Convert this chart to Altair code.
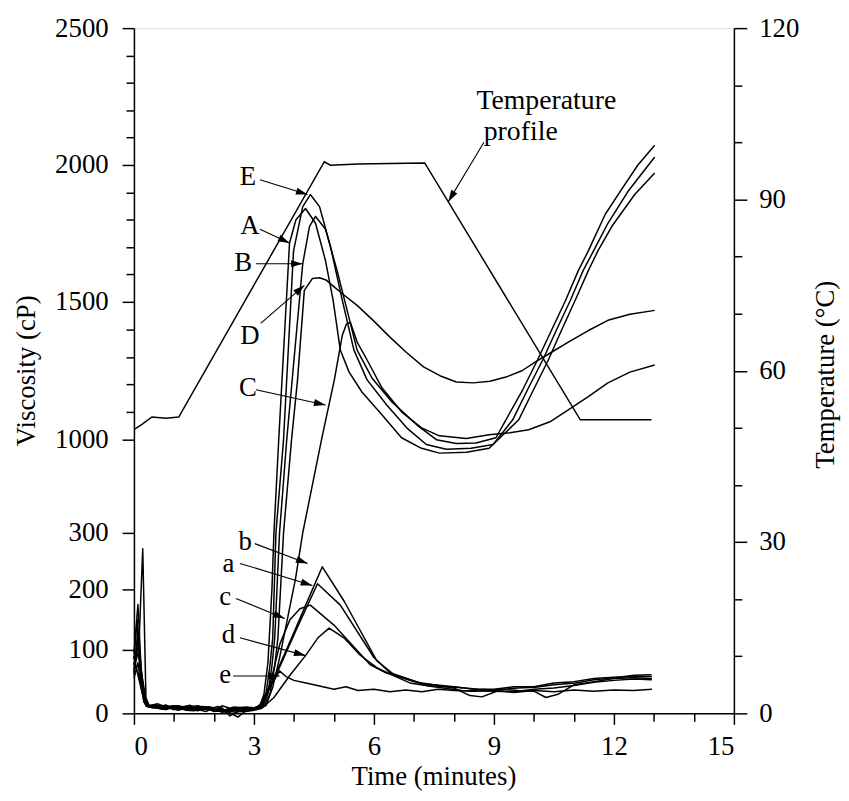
import math
import altair as alt
import pandas as pd

FONT = "Liberation Serif"

# ---------------- data ----------------
# upper-viscosity curves (cP) vs time (min)
A_t = [0.0, 0.08, 0.15, 0.25, 0.35, 0.55, 0.7, 0.9, 1.1, 1.3, 1.5, 1.7, 1.9, 2.1, 2.3, 2.5, 2.7, 2.85, 3.0, 3.15, 3.25, 3.35,
       3.45, 3.5, 3.62, 3.89, 4.05, 4.29,
       4.54, 4.79, 4.98, 5.16, 5.38, 5.70, 6.2, 6.69, 7.19, 7.64, 8.31, 8.88, 9.62, 9.99, 10.36, 10.69, 11.03, 11.36,
       11.6, 11.95, 12.52, 13.02]
A_v = [85, 150, 70, 18, 12, 14, 9, 11, 12, 8, 7, 11, 10, 5, 6, 10, 9, 4, 8, 12, 30, 80,
       200, 300, 1000, 1715, 1800, 1841,
       1787, 1650, 1505, 1325, 1245, 1173, 1090, 1007, 935, 899, 906, 935, 1072, 1181, 1289, 1397, 1505, 1614,
       1686, 1776, 1892, 1971]

E_t = [0.0, 0.1, 0.2, 0.3, 0.45, 0.6, 0.8, 1.0, 1.2, 1.4, 1.6, 1.8, 2.0, 2.2, 2.4, 2.6, 2.8, 3.0, 3.2, 3.3, 3.4, 3.47,
       3.55, 3.74, 3.99, 4.22, 4.41,
       4.64, 4.91, 5.21, 5.5, 5.83, 6.32, 6.82, 7.31, 7.81, 8.43, 8.98, 9.47, 9.84, 10.22, 10.56, 10.91, 11.23, 11.53,
       11.85, 12.35, 13.02]
E_v = [75, 120, 40, 14, 9, 10, 13, 6, 9, 11, 7, 8, 4, 12, 8, 5, 9, 9, 12, 30, 75, 120,
       300, 1000, 1686, 1848, 1892,
       1848, 1704, 1505, 1325, 1217, 1126, 1043, 964, 928, 935, 964, 1072, 1181, 1289, 1397, 1505, 1614, 1697,
       1787, 1903, 2029]

B_t = [0.0, 0.1, 0.2, 0.3, 0.45, 0.6, 0.8, 1.0, 1.2, 1.4, 1.6, 1.8, 2.0, 2.2, 2.4, 2.6, 2.8, 3.0, 3.22, 3.35, 3.45, 3.52,
       3.64, 3.82, 4.22, 4.39, 4.54,
       4.79, 5.08, 5.33, 5.58, 5.95, 6.45, 7.07, 7.56, 8.06, 8.55, 9.05, 9.30, 9.72, 10.09, 10.44, 10.79, 11.11, 11.36,
       11.78, 12.20, 12.60, 13.02]
B_v = [65, 110, 45, 12, 10, 8, 6, 11, 9, 5, 10, 9, 3, 4, 7, 8, 5, 6, 12, 30, 75, 120,
       300, 1000, 1639, 1776, 1812,
       1765, 1614, 1469, 1325, 1224, 1137, 1054, 1000, 971, 975, 1007, 1072, 1181, 1289, 1397, 1505, 1614, 1686,
       1819, 1913, 2000, 2072]

D_t = [0.0, 0.12, 0.2, 0.3, 0.4, 0.6, 0.8, 1.0, 1.2, 1.4, 1.6, 1.8, 2.0, 2.2, 2.4, 2.6, 2.8, 3.1, 3.25, 3.4, 3.52, 3.6,
       3.74, 3.94, 4.09, 4.26, 4.46, 4.64,
       4.8, 4.96, 5.25, 5.58, 6.0, 6.40, 6.8, 7.24, 7.65, 8.06, 8.48, 8.9, 9.30, 9.7, 10.04, 10.45, 10.86, 11.35, 11.85,
       12.4, 13.02]
D_v = [100, 90, 60, 20, 10, 12, 7, 9, 10, 6, 4, 10, 9, 3, 6, 9, 10, 8, 12, 30, 75, 120,
       300, 1000, 1217, 1542, 1585, 1588,
       1580, 1560, 1525, 1487, 1430, 1372, 1318, 1264, 1232, 1209, 1206, 1212, 1227, 1250, 1282, 1318, 1354, 1395, 1433,
       1455, 1469]

C_t = [0.0, 0.1, 0.22, 0.32, 0.5, 0.7, 0.9, 1.1, 1.3, 1.5, 1.7, 1.9, 2.1, 2.3, 2.5, 2.7, 2.85, 3.0, 3.3, 3.47, 3.64,
       3.84, 4.04, 4.22, 4.69, 5.01, 5.21, 5.31, 5.41,
       5.58, 5.83, 6.2, 6.69, 7.19, 7.64, 8.31, 8.88, 9.4, 9.87, 10.4, 10.86, 11.35, 11.85, 12.4, 13.02]
C_v = [90, 60, 30, 11, 13, 8, 10, 5, 8, 10, 6, 7, 11, 2, 4, 6, 9, 7, 12, 41, 87,
       152, 219, 300, 1000, 1217, 1379, 1419, 1426,
       1354, 1289, 1188, 1101, 1043, 1014, 1004, 1018, 1025, 1036, 1065, 1108, 1155, 1206, 1245, 1271]

# lower-viscosity curves (cP)
a_t = [0.0, 0.12, 0.22, 0.3, 0.38, 0.6, 0.8, 1.0, 1.2, 1.4, 1.6, 1.8, 2.0, 2.2, 2.4, 2.6, 2.8, 3.05, 3.2, 3.6, 4.09, 4.59,
       5.16, 6.0, 6.4, 7.2, 8.0, 8.5,
       9.0, 9.5, 10.0, 10.5, 11.0, 11.5, 12.0, 12.5, 12.95]
a_v = [70, 100, 272, 25, 12, 15, 10, 6, 7, 11, 12, 8, 4, 9, -4, 3, 5, 8, 14, 67, 138, 210,
       174, 88, 64, 47, 42, 38,
       38, 42, 42, 48, 50, 55, 57, 58, 58]

b_t = [0.0, 0.1, 0.18, 0.28, 0.4, 0.6, 0.8, 1.0, 1.2, 1.4, 1.6, 1.8, 2.0, 2.2, 2.4, 2.6, 2.8, 3.05, 3.22, 3.6, 3.97, 4.34,
       4.71, 5.26, 6.07, 6.5, 7.31,
       8.06, 8.6, 9.05, 9.6, 10.04, 10.5, 11.03, 11.5, 12.03, 12.5, 12.94]
b_v = [95, 175, 70, 15, 10, 8, 6, 12, 11, 7, 5, 10, 8, 2, 3, 9, 7, 9, 17, 70, 124, 181,
       240, 180, 83, 61, 44,
       41, 38, 37, 40, 41, 45, 48, 53, 56, 60, 61]

c_t = [0.0, 0.1, 0.2, 0.3, 0.45, 0.6, 0.8, 1.0, 1.2, 1.4, 1.6, 1.8, 2.0, 2.2, 2.4, 2.6, 2.75, 2.9, 3.15, 3.4, 3.65, 3.9,
       4.15, 4.41, 5.0, 5.9, 6.3, 7.0, 7.6,
       8.0, 8.4, 8.7, 9.2, 9.6, 10.0, 10.3, 10.6, 11.0, 11.5, 12.0, 12.5, 12.95]
c_v = [60, 135, 55, 14, 9, 11, 13, 8, 10, 13, 6, 3, 9, 7, 1, -6, 2, 6, 12, 45, 110, 150,
       168, 174, 141, 77, 64, 50, 44,
       40, 28, 26, 38, 36, 35, 25, 30, 45, 50, 55, 56, 55]

d_t = [0.0, 0.1, 0.2, 0.3, 0.45, 0.6, 0.8, 1.0, 1.2, 1.4, 1.6, 1.8, 2.0, 2.2, 2.4, 2.6, 2.8, 3.0, 3.2, 3.5, 3.9, 4.29,
       4.6, 4.88, 5.25, 5.65, 6.07, 6.5, 6.9,
       7.5, 8.2, 9.0, 9.5, 10.0, 10.5, 11.0, 11.5, 12.0, 12.5, 12.95]
d_v = [55, 80, 35, 12, 11, 8, 10, 12, 7, 6, 11, 9, 6, 2, 5, 7, 3, 5, 8, 25, 60, 91,
       120, 136, 120, 92, 72, 59, 48,
       42, 36, 35, 34, 38, 40, 44, 49, 52, 54, 53]

e_t = [0.0, 0.12, 0.25, 0.35, 0.5, 0.7, 0.9, 1.1, 1.3, 1.5, 1.7, 1.9, 2.1, 2.3, 2.5, 2.7, 2.85, 3.0, 3.1, 3.3, 3.64, 3.8,
       4.0, 4.3, 4.5, 5.0, 5.3, 5.6, 6.0,
       6.4, 6.8, 7.2, 7.6, 8.0, 8.5, 9.0, 9.5, 10.0, 10.5, 11.0, 11.5, 12.0, 12.5, 12.95]
e_v = [80, 60, 18, 10, 12, 7, 9, 9, 5, 4, 10, 8, 6, 5, 2, 3, 7, 6, 8, 30, 67, 58,
       52, 48, 45, 38, 42, 36, 38,
       34, 37, 34, 38, 36, 35, 37, 33, 36, 34, 37, 35, 37, 36, 38]

# temperature profile (deg C)
temp_t = [0.0, 0.2, 0.45, 0.8, 1.12, 4.76, 4.91, 5.6, 6.4, 7.27, 11.16, 12.94]
temp_v = [49.7, 50.6, 51.9, 51.7, 51.9, 96.6, 96.0, 96.2, 96.3, 96.4, 51.4, 51.4]

# annotations: label text, label position, arrow tail -> head (time, viscosity)
ann_text = ["E", "A", "B", "D", "C", "b", "a", "c", "d", "e"]
ann_lt = [2.85, 2.90, 2.73, 2.90, 2.85, 2.78, 2.36, 2.28, 2.36, 2.28]
ann_lv = [1957, 1776, 1643, 1375, 1188, 284, 244, 188, 125, 61]
arr_t0 = [3.15, 3.15, 3.05, 3.17, 3.05, 3.02, 2.65, 2.55, 2.65, 2.48, 8.75]
arr_v0 = [1946, 1765, 1639, 1422, 1181, 281, 246, 185, 120, 59, 2083]
arr_t1 = [4.34, 3.89, 4.22, 4.26, 4.79, 4.34, 4.46, 3.77, 4.29, 3.64, 7.86]
arr_v1 = [1892, 1715, 1639, 1560, 1126, 246, 207, 152, 91, 59, 1866]
tp_text = ["Temperature", "profile"]
tp_t = [10.31, 9.67]
tp_v = [2235, 2119]

# axis ticks
visc_ticks = [0, 100, 200, 300] + list(range(1000, 2501, 100))
temp_ticks = list(range(0, 121, 10))
time_ticks = list(range(0, 16))

# ---------------- layout ----------------
W, H = 605, 691
VISC_DOMAIN = [0, 100, 200, 300, 1000, 1500, 2000, 2500]
VISC_RANGE = [691, 627, 566, 509, 415, 276, 138, 0]


def ypix(v):
    d, r = VISC_DOMAIN, VISC_RANGE
    for i in range(len(d) - 1):
        if v <= d[i + 1] or i == len(d) - 2:
            return r[i] + (v - d[i]) * (r[i + 1] - r[i]) / (d[i + 1] - d[i])


def xpix(t):
    return t / 15 * W


curves = {"A": (A_t, A_v), "E": (E_t, E_v), "B": (B_t, B_v), "D": (D_t, D_v), "C": (C_t, C_v),
          "a": (a_t, a_v), "b": (b_t, b_v), "c": (c_t, c_v), "d": (d_t, d_v), "e": (e_t, e_v)}
rows = []
for name, (ts, vs) in curves.items():
    for i, (t, v) in enumerate(zip(ts, vs)):
        rows.append({"curve": name, "t": t, "v": v, "o": i})
df = pd.DataFrame(rows)

tdf = pd.DataFrame({"t": temp_t, "T": temp_v, "o": range(len(temp_t))})

arr = pd.DataFrame({"t0": arr_t0, "v0": arr_v0, "t1": arr_t1, "v1": arr_v1})
angles = []
for t0, v0, t1, v1 in zip(arr_t0, arr_v0, arr_t1, arr_v1):
    dx = xpix(t1) - xpix(t0)
    dy = ypix(v1) - ypix(v0)
    angles.append(math.degrees(math.atan2(dx, -dy)) % 360)
arr["ang"] = angles

lab = pd.DataFrame({"txt": ann_text, "t": ann_lt, "v": ann_lv})
tlab = pd.DataFrame({"txt": tp_text, "t": tp_t, "v": tp_v})

xscale = alt.Scale(domain=[0, 15], nice=False, zero=False)
yscale = alt.Scale(domain=VISC_DOMAIN, range=VISC_RANGE, nice=False, zero=False)

common_axis = dict(domainColor="black", tickColor="black", labelColor="black", titleColor="black",
                   labelFont=FONT, titleFont=FONT, labelFontSize=27, titleFontSize=27,
                   titleFontWeight="normal", grid=False, domainWidth=1.5, tickWidth=1.5)

xaxis = alt.Axis(values=time_ticks, format="d",
                 labelExpr="datum.value % 3 === 0 ? datum.label : ''",
                 tickSize={"condition": {"test": "datum.value % 3 === 0", "value": 11}, "value": 8},
                 labelPadding=9, title="Time (minutes)", titleX=302, titleY=72,
                 titleAlign="center", titleBaseline="alphabetic", **common_axis)

yaxis = alt.Axis(values=visc_ticks, format="d",
                 labelExpr="(datum.value <= 300 || datum.value % 500 === 0) ? datum.label : ''",
                 tickSize={"condition": {"test": "(datum.value <= 300 || datum.value % 500 === 0)", "value": 12},
                           "value": 8},
                 labelPadding=14, labelBaseline="middle",
                 title="Viscosity (cP)", titleAngle=270, titleX=-100, titleY=345,
                 titleAlign="center", titleBaseline="alphabetic", **common_axis)

taxis = alt.Axis(orient="right", values=temp_ticks, format="d",
                 labelExpr="datum.value % 30 === 0 ? datum.label : ''",
                 tickSize={"condition": {"test": "datum.value % 30 === 0", "value": 13}, "value": 8},
                 labelPadding=12, labelBaseline="middle",
                 title="Temperature (°C)", titleAngle=270, titleX=100, titleY=349,
                 titleAlign="center", titleBaseline="alphabetic", **common_axis)

X = lambda f: alt.X(f, scale=xscale, axis=xaxis)
Y = lambda f: alt.Y(f, scale=yscale, axis=yaxis)

lines = alt.Chart(df).mark_line(color="black", strokeWidth=1.5, strokeJoin="round").encode(
    x=X("t:Q"), y=Y("v:Q"), detail="curve:N", order="o:Q")

arrow_lines = alt.Chart(arr).mark_rule(color="black", strokeWidth=1.1).encode(
    x=X("t0:Q"), x2="t1:Q", y=Y("v0:Q"), y2="v1:Q")

heads = alt.Chart(arr).mark_point(shape="M0,0L-0.8,2.6L0.8,2.6Z", filled=True, color="black",
                                  size=81, opacity=1, strokeWidth=0).encode(
    x=X("t1:Q"), y=Y("v1:Q"), angle=alt.Angle("ang:Q", scale=None))

labels = alt.Chart(lab).mark_text(font=FONT, fontSize=27, color="black", align="center",
                                  baseline="middle").encode(
    x=X("t:Q"), y=Y("v:Q"), text="txt:N")

tlabels = alt.Chart(tlab).mark_text(font=FONT, fontSize=28, color="black", align="center",
                                    baseline="middle").encode(
    x=X("t:Q"), y=Y("v:Q"), text="txt:N")

visc_layer = alt.layer(lines, arrow_lines, heads, labels, tlabels)

temp_line = alt.Chart(tdf).mark_line(color="black", strokeWidth=1.5).encode(
    x=X("t:Q"),
    y=alt.Y("T:Q", scale=alt.Scale(domain=[0, 120], nice=False, zero=False), axis=taxis),
    order="o:Q")

chart = alt.layer(visc_layer, temp_line).resolve_scale(y="independent").properties(
    width=W, height=H,
    autosize=alt.AutoSizeParams(type="none"),
    padding={"left": 127, "top": 17, "right": 108, "bottom": 77},
).configure_view(stroke="black", strokeWidth=1.5).configure(background="white")

chart.save("out.html", embed_options={"renderer": "svg", "actions": False})
